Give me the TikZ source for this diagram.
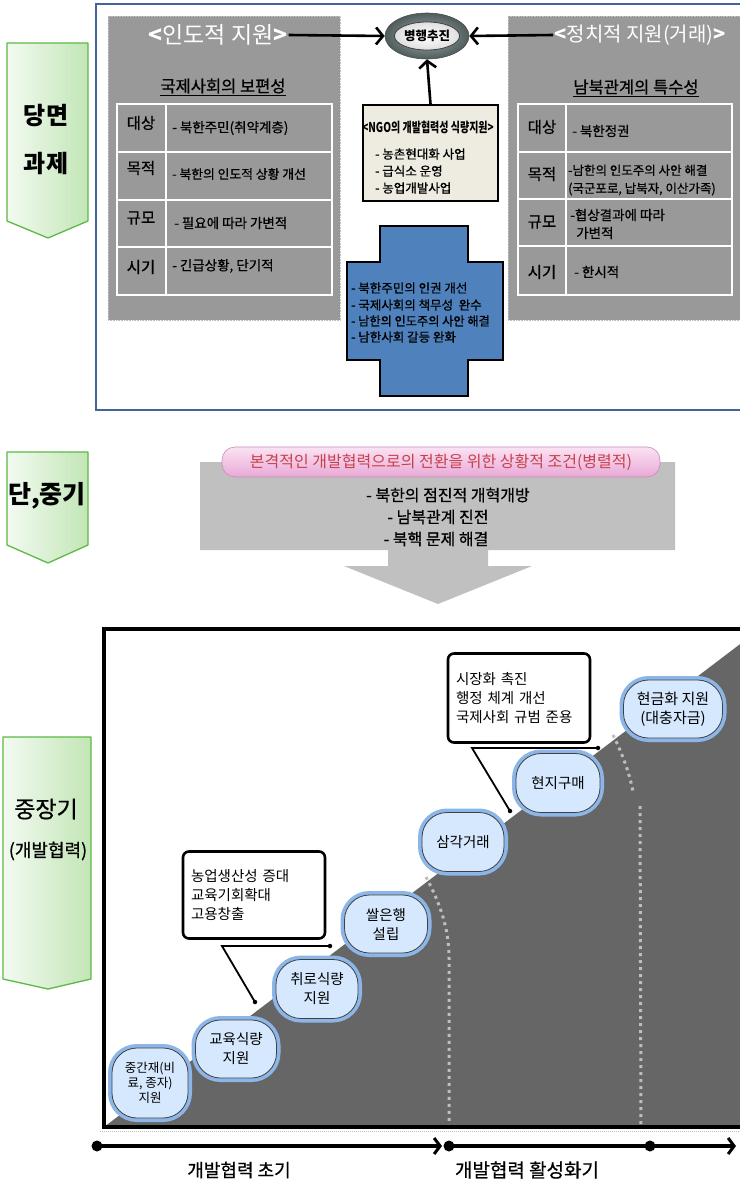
\documentclass[tikz,border=0pt]{standalone}
\usepackage{fontspec}
\setmainfont{Noto Sans CJK KR}
\newfontfamily\semib[FakeBold=0.7]{Noto Sans CJK KR}
\usepackage{graphicx}
\usetikzlibrary{arrows.meta,shapes.geometric}
\definecolor{panelgray}{HTML}{999999}
\definecolor{frameblue}{HTML}{41649A}
\definecolor{crossblue}{HTML}{4F81BD}
\definecolor{ngobg}{HTML}{EEECE1}
\definecolor{midgray}{HTML}{C0C0C0}
\definecolor{darkfill}{HTML}{666666}
\definecolor{pillfill}{HTML}{D6E8FD}
\definecolor{pillglow}{HTML}{8DB6E8}
\definecolor{greenb}{HTML}{5CB946}
\definecolor{greenl}{HTML}{F3FAF1}
\definecolor{greenr}{HTML}{C2E6B6}
\definecolor{pinkt}{HTML}{FBE3F3}
\definecolor{pinkb}{HTML}{E8A8D6}
\definecolor{redtxt}{HTML}{C8404C}
\definecolor{dotgray}{HTML}{BEBEBE}
\definecolor{ringout}{HTML}{4F5C5C}
\definecolor{ringin}{HTML}{A9B3B3}
\newcommand{\fsz}[2]{\fontsize{#1}{#2}\selectfont}
\tikzset{
  greenarrow/.style={left color=greenl, right color=greenr, draw=greenb, line width=1.3pt, line join=round},
  panel/.style={fill=panelgray, draw=gray!50, densely dotted, line width=0.6pt},
  tblline/.style={draw=white, line width=2pt},
  tlabel/.style={font=\semib\fsz{15.5}{18}, inner sep=0pt},
  tcell/.style={font=\semib\fsz{13.5}{18}, anchor=west, inner sep=0pt, align=left},
  ptitle/.style={font=\fsz{23}{26}, text=white, inner sep=1pt},
  bigarrow/.style={line width=2.6pt, -{Straight Barb[length=7pt,width=17pt,line width=2.6pt]}},
  itemtxt/.style={font=\semib\fsz{12.5}{16}, anchor=west, inner sep=0pt},
  pill/.style={rounded corners=25pt, fill=pillfill, draw=black!75, line width=0.8pt,
    preaction={draw=pillglow, line width=8pt}, align=center, inner sep=2pt},
  callbox/.style={rounded corners=6pt, draw=black, line width=2.6pt, fill=white,
    align=left, font=\fsz{14.5}{19}, inner sep=7pt},
  callline/.style={line width=1.8pt},
  tipdot/.style={circle, fill=black, inner sep=0pt, minimum size=4.5pt},
  axdot/.style={circle, fill=black, inner sep=0pt, minimum size=11pt},
  axisarrow/.style={line width=4pt, -{Straight Barb[length=6pt,width=16pt,line width=3pt]}},
  dotline/.style={draw=dotgray, line width=3pt, dash pattern=on 3pt off 4pt},
}
\begin{document}
\begin{tikzpicture}[x=1pt,y=-1pt]
\useasboundingbox (0,0) rectangle (739,1183);
\fill[white] (0,0) rectangle (739,1183);

% ================= TOP SECTION =================
\draw[greenarrow] (7,43) -- (88,43) -- (88,221) -- (48,238) -- (7,221) -- cycle;
\node[font=\fsz{24}{28}\bfseries] (dm1) at (46,116) {당면};
\node[font=\fsz{24}{28}\bfseries] (dm2) at (46,163) {과제};

\draw[frameblue, line width=2pt] (96,4) rectangle (770,410);

% left panel
\draw[panel] (108,16) rectangle (340,320);
\node[ptitle] (ltitle) at (218,35) {{\bfseries <}인도적 지원{\bfseries >}};
\node[font=\semib\fsz{16.5}{20}] (lsub) at (223,87) {\underline{국제사회의 보편성}};
\draw[tblline] (117,104) rectangle (332,295);
\draw[tblline] (117,152) -- (332,152) (117,200) -- (332,200) (117,247) -- (332,247) (166,104) -- (166,295);
\node[tlabel] (l1) at (141,123) {대상};
\node[tlabel] (l2) at (141,168) {목적};
\node[tlabel] (l3) at (141,218) {규모};
\node[tlabel] (l4) at (141,267) {시기};
\node[tcell] (c1) at (172,128) {- 북한주민(취약계층)};
\node[tcell,font=\semib\fsz{12.8}{16}] (c2) at (172,174) {- 북한의 인도적 상황 개선};
\node[tcell] (c3) at (174,223) {- 필요에 따라 가변적};
\node[tcell] (c4) at (172,266) {- 긴급상황, 단기적};

% right panel
\draw[panel] (508,16) rectangle (770,320);
\node[ptitle,font=\fsz{20}{24}] (rtitle) at (640,35) {{\bfseries <}정치적 지원(거래){\bfseries >}};
\node[font=\semib\fsz{16.5}{20}] (rsub) at (636,88) {\underline{남북관계의 특수성}};
\draw[tblline] (518,104) rectangle (732,295);
\draw[tblline] (518,152) -- (732,152) (518,199) -- (732,199) (518,246) -- (732,246) (566,104) -- (566,295);
\node[tlabel] (r1) at (542,127) {대상};
\node[tlabel] (r2) at (542,174) {목적};
\node[tlabel] (r3) at (542,222) {규모};
\node[tlabel] (r4) at (542,272) {시기};
\node[tcell] (d1) at (572,131) {- 북한정권};
\node[tcell,font=\semib\fsz{12.5}{18}] (d2) at (568,180) {-남한의 인도주의 사안 해결\\(국군포로, 납북자, 이산가족)};
\node[tcell] (d3) at (570,224) {-협상결과에 따라\\\ \ 가변적};
\node[tcell] (d4) at (574,272) {- 한시적};

% ellipse
\node[ellipse, minimum width=84pt, minimum height=46pt, inner color=ringin, outer color=ringout, draw=black!70, line width=0.6pt] (ring) at (427,36) {};
\node[ellipse, minimum width=57pt, minimum height=28pt, inner color=white, outer color=gray!25, draw=black!75, line width=0.8pt, inner sep=0pt, font=\fsz{12.5}{14}\bfseries] (core) at (427,36) {병행추진};

% NGO box
\node[draw=black, line width=2pt, fill=ngobg, minimum width=135pt, minimum height=96pt, anchor=north west] (ngo) at (362,104) {};
\node[font=\fsz{13.5}{16}, inner sep=0pt] (ngot) at (428,127) {\scalebox{0.74}[1]{\bfseries <NGO의 개발협력성 식량지원>}};
\node[itemtxt] (n1) at (375,154) {- 농촌현대화 사업};
\node[itemtxt] (n2) at (375,171) {- 급식소 운영};
\node[itemtxt] (n3) at (375,188) {- 농업개발사업};

\draw[bigarrow] (ltitle.east) -- (ring.west);
\draw[bigarrow] (rtitle.west) -- (ring.east);
\draw[bigarrow] (ngo.north) -- (ring.south);

% blue cross
\draw[fill=crossblue, draw=black, line width=2pt] (380,226) -- (468,226) -- (468,262) -- (503,262) -- (503,360) -- (468,360) -- (468,396) -- (380,396) -- (380,360) -- (347,360) -- (347,262) -- (380,262) -- cycle;
\node[itemtxt] (x1) at (351,288) {- 북한주민의 인권 개선};
\node[itemtxt] (x2) at (351,305) {- 국제사회의 책무성\ \ 완수};
\node[itemtxt,font=\semib\fsz{12.2}{16}] (x3) at (351,321) {- 남한의 인도주의 사안 해결};
\node[itemtxt] (x4) at (351,337) {- 남한사회 갈등 완화};

% ================= MIDDLE SECTION =================
\draw[greenarrow] (7,452) -- (88,452) -- (88,545) -- (48,563) -- (7,545) -- cycle;
\node[font=\fsz{25}{28}\bfseries] (dj) at (47,496) {단,중기};

\fill[midgray] (200,462) -- (675,462) -- (675,550) -- (488,550) -- (488,566) -- (532,566) -- (438,604) -- (344,566) -- (388,566) -- (388,550) -- (200,550) -- cycle;
\node[rounded corners=13pt, top color=pinkt, bottom color=pinkb, draw=pinkb!85!black, line width=0.6pt, minimum width=438pt, minimum height=30pt, font=\fsz{16}{18}, text=redtxt, inner sep=0pt] (cond) at (441,462) {본격적인 개발협력으로의 전환을 위한 상황적 조건(병렬적)};
\node[font=\semib\fsz{16}{19}, inner sep=0pt] (m1) at (448,495) {- 북한의 점진적 개혁개방};
\node[font=\semib\fsz{16}{19}, inner sep=0pt] (m2) at (438,517) {- 남북관계 진전};
\node[font=\semib\fsz{16}{19}, inner sep=0pt] (m3) at (436,539) {- 북핵 문제 해결};

% ================= BOTTOM SECTION =================
\draw[greenarrow] (3,737) -- (91,737) -- (91,979) -- (48,989) -- (3,979) -- cycle;
\node[font=\semib\fsz{23}{26}] (jj1) at (46,809) {중장기};
\node[font=\semib\fsz{18}{20}] (jj2) at (48,851) {(개발협력)};

\fill[darkfill] (104,1127) -- (760,629) -- (760,1127) -- cycle;
\draw[dotline] (426,877) .. controls (441,905) and (449,930) .. (449,958) -- (449,1127);
\draw[dotline] (613,735) .. controls (623,755) and (630,775) .. (633,792);
\draw[dotline] (640,806) -- (641,1127);

\draw[dotgray, densely dotted, line width=1pt] (100,1131) -- (760,1131);

\node[pill, minimum width=76pt, minimum height=70pt, font=\fsz{12.5}{15}] (p1) at (150,1083) {중간재(비\\료, 종자)\\지원};
\node[pill, minimum width=81pt, minimum height=58pt, font=\fsz{14.5}{19}] (p2) at (236,1049) {교육식량\\지원};
\node[pill, minimum width=82pt, minimum height=59pt, font=\fsz{14.5}{19}] (p3) at (317,989) {취로식량\\지원};
\node[pill, minimum width=83pt, minimum height=58pt, font=\fsz{14.5}{19}] (p4) at (386,924) {쌀은행\\설립};
\node[pill, minimum width=82pt, minimum height=59pt, font=\fsz{14.5}{19}] (p5) at (463,842) {삼각거래};
\node[pill, minimum width=84pt, minimum height=59pt, font=\fsz{14.5}{19}] (p6) at (558,783) {현지구매};
\node[pill, minimum width=99pt, minimum height=58pt, font=\fsz{15}{19}] (p7) at (673,709) {현금화 지원\\(대충자금)};

% callout A
\node[callbox, minimum width=142pt, minimum height=89pt, text width=126pt] (ca) at (519,698) {시장화 촉진\\행정 체계 개선\\국제사회 규범 준용};
\coordinate (ca1) at (598,748);
\coordinate (ca2) at (472,748);
\coordinate (ca3) at (510,811);
\draw[callline] (ca1) -- (ca2) -- (ca3);
\node[tipdot] (cad1) at (ca1) {};
\node[tipdot] (cad2) at (ca3) {};

% callout B
\node[callbox, minimum width=142pt, minimum height=87pt, text width=126pt] (cb) at (254,895) {농업생산성 증대\\교육기회확대\\고용창출};
\coordinate (cb1) at (330,946);
\coordinate (cb2) at (222,946);
\coordinate (cb3) at (255,1002);
\draw[callline] (cb1) -- (cb2) -- (cb3);
\node[tipdot] (cbd1) at (cb1) {};
\node[tipdot] (cbd2) at (cb3) {};

\draw[black, line width=3.5pt] (104,629) rectangle (780,1127);

% axis
\node[axdot] (ax0) at (97,1146) {};
\node[axdot] (ax1) at (449,1146) {};
\node[axdot] (ax2) at (650,1146) {};
\coordinate (axmid) at (442,1146);
\coordinate (axend) at (736,1146);
\draw[axisarrow] (ax0.center) -- (axmid);
\draw[axisarrow] (ax1.center) -- (axend);
\node[font=\semib\fsz{18}{20}] (t1) at (239,1170) {개발협력 초기};
\node[font=\semib\fsz{19}{22}] (t2) at (527,1170) {개발협력 활성화기};
\end{tikzpicture}
\end{document}
